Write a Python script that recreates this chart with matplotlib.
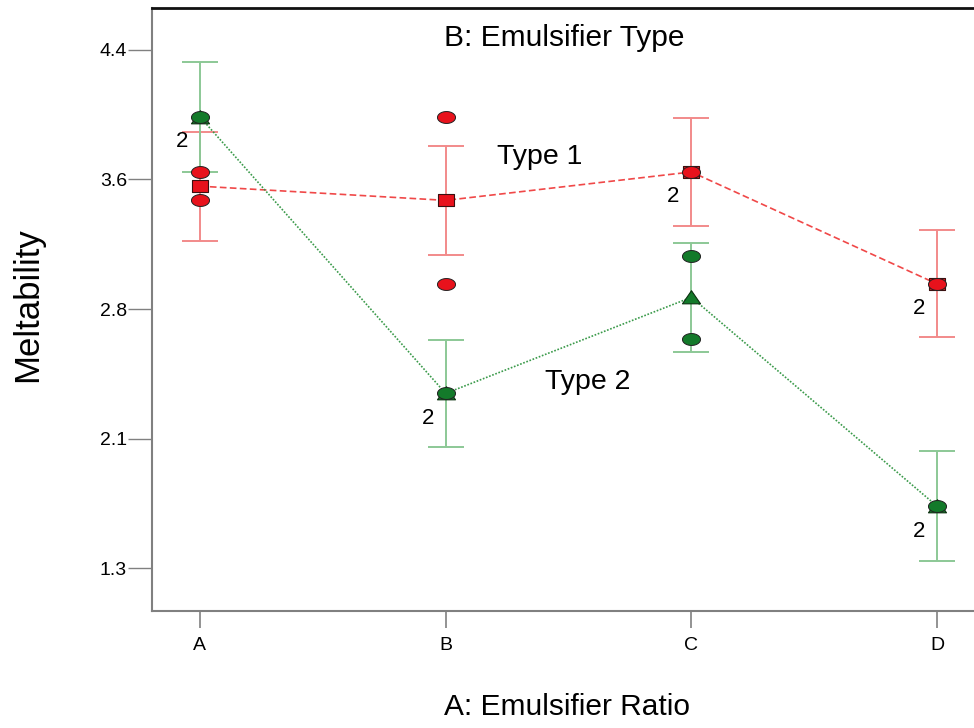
import numpy as np
import matplotlib.pyplot as plt
from matplotlib.path import Path

plt.rcParams['font.family'] = ['Liberation Sans', 'DejaVu Sans']

# interaction plot: meltability vs emulsifier ratio, one line per emulsifier type
ratio_labels = ['A', 'B', 'C', 'D']
type1_mean = [3.585, 3.50, 3.67, 3.00]
type2_mean = [4.00, 2.345, 2.92, 1.67]
type1_lsd = [0.326, 0.327, 0.323, 0.32]
type2_lsd = [0.33, 0.32, 0.326, 0.33]
type1_runs = [[3.67, 3.50], [4.00, 3.00], [3.67, 3.67], [3.00, 3.00]]
type2_runs = [[4.00, 4.00], [2.345, 2.345], [3.167, 2.671], [1.67, 1.67]]
ytick_vals = [1.3, 2.075, 2.85, 3.625, 4.4]
ytick_text = ['1.3', '2.1', '2.8', '3.6', '4.4']

red = '#e8121c'
red_light = '#f28a8a'
green = '#137a2a'
green_light = '#8cc896'

# slightly wide markers like the original
t = np.linspace(0, 2 * np.pi, 60)
ellipse = Path(np.column_stack([np.cos(t), 0.66 * np.sin(t)]), closed=True)
rect = Path([(-1, -0.8), (1, -0.8), (1, 0.8), (-1, 0.8), (-1, -0.8)], closed=True)
tri = Path([(-1, -0.7), (1, -0.7), (0, 0.75), (-1, -0.7)], closed=True)

fig = plt.figure(figsize=(9.74, 7.28), dpi=100)
ax = fig.add_axes([0.156, 0.1607, 0.844, 0.8283])

x = np.arange(len(ratio_labels))

ax.errorbar(x, type1_mean, yerr=type1_lsd, fmt='none', ecolor=red_light,
            elinewidth=1.4, capsize=13, capthick=1.4, zorder=2)
ax.errorbar(x, type2_mean, yerr=type2_lsd, fmt='none', ecolor=green_light,
            elinewidth=1.4, capsize=13, capthick=1.4, zorder=2)

ax.plot(x, type1_mean, color='#f04848', lw=1.2, dashes=(4, 2), zorder=3)
ax.plot(x, type2_mean, color='#3a9a4a', lw=1.2, dashes=(1, 1), zorder=3)

ax.plot(x, type1_mean, ls='none', marker=rect, ms=11.5, mfc=red,
        mec='#3a1010', mew=0.8, zorder=4)
ax.plot(x, type2_mean, ls='none', marker=tri, ms=13, mfc=green,
        mec='#0a300f', mew=0.8, zorder=4)

for runs, col in [(type1_runs, red), (type2_runs, green)]:
    for i, vals in enumerate(runs):
        for v in sorted(set(vals)):
            ax.plot(i, v, ls='none', marker=ellipse, ms=13, mfc=col,
                    mec='#222222', mew=0.7, zorder=5)
            n = vals.count(v)
            if n > 1:
                ax.annotate(str(n), (i, v), xytext=(-13, -18),
                            textcoords='offset points', ha='center',
                            va='center', fontsize=16, zorder=6)

ax.text(1.384, 3.76, 'Type 1', fontsize=20.5, ha='center', va='center')
ax.text(1.579, 2.413, 'Type 2', fontsize=20.5, ha='center', va='center')
ax.text(0.502, 0.95, 'B: Emulsifier Type', transform=ax.transAxes,
        fontsize=21.5, ha='center', va='center')

ax.set_xlim(-0.195, 3.15)
ax.set_ylim(1.043, 4.651)
ax.set_xticks(x)
ax.set_xticklabels(ratio_labels)
ax.set_yticks(ytick_vals)
ax.set_yticklabels(ytick_text)

ax.spines['right'].set_visible(False)
ax.spines['top'].set_color('#111111')
ax.spines['top'].set_linewidth(2)
for s in ['left', 'bottom']:
    ax.spines[s].set_color('#808080')
    ax.spines[s].set_linewidth(1.5)

ax.tick_params(axis='y', length=17, width=1, color='#808080', pad=1,
               labelsize=14)
ax.tick_params(axis='x', length=12, width=1.2, color='#808080', pad=7,
               labelsize=14)

fig.text(567 / 974, 1 - 707 / 728, 'A: Emulsifier Ratio', fontsize=21.5,
         ha='center', va='center')
fig.text(28 / 974, 1 - 305 / 728, 'Meltability', fontsize=25,
         rotation=90, ha='center', va='center')

fig.savefig('out.png', dpi=100)
